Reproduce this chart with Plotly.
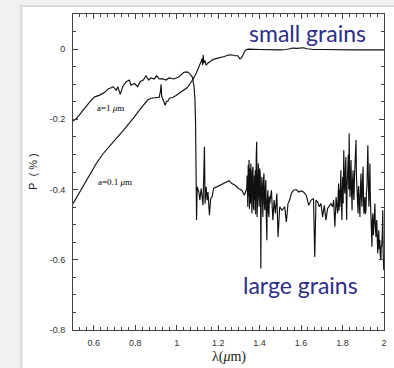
import plotly.graph_objects as go

# Polarisation spectra P(%) versus wavelength for two grain sizes.

# a = 1 micron grains: shortward rise, then collapse beyond ~1.09 um
lam_a1_short = [0.500, 0.518, 0.549, 0.581, 0.605, 0.629, 0.653, 0.673, 0.685, 0.693,
                0.709, 0.716, 0.728, 0.740, 0.757, 0.772, 0.780, 0.796, 0.812, 0.823,
                0.839, 0.852, 0.865, 0.876, 0.892, 0.903, 0.916, 0.931, 0.948, 0.963,
                0.987, 1.011, 1.035, 1.051, 1.062, 1.075, 1.083, 1.088, 1.091, 1.096]
pol_a1_short = [-0.205, -0.197, -0.174, -0.150, -0.136, -0.131, -0.123, -0.112, -0.110, -0.107,
                -0.117, -0.107, -0.129, -0.107, -0.093, -0.088, -0.103, -0.098, -0.107, -0.093,
                -0.088, -0.076, -0.088, -0.082, -0.085, -0.076, -0.085, -0.084, -0.088, -0.082,
                -0.085, -0.079, -0.066, -0.065, -0.069, -0.079, -0.103, -0.140, -0.207, -0.487]

lam_a1_hump = [1.099, 1.107, 1.112, 1.118, 1.123, 1.127, 1.134, 1.137, 1.142, 1.147,
               1.151, 1.158, 1.164, 1.171, 1.178, 1.194, 1.210, 1.226, 1.242, 1.253,
               1.266, 1.282, 1.298, 1.314, 1.327]
pol_a1_hump = [-0.392, -0.407, -0.430, -0.397, -0.421, -0.445, -0.278, -0.440, -0.392, -0.430,
               -0.407, -0.473, -0.426, -0.421, -0.397, -0.392, -0.388, -0.383, -0.378, -0.375,
               -0.383, -0.388, -0.397, -0.402, -0.416]

lam_a1_band1 = [1.338, 1.340, 1.343, 1.345, 1.347, 1.349, 1.351, 1.354, 1.356, 1.358,
                1.360, 1.363, 1.365, 1.368, 1.370, 1.373, 1.375, 1.377, 1.379, 1.381,
                1.384, 1.386, 1.388, 1.390, 1.392, 1.394, 1.396, 1.398, 1.400, 1.403,
                1.405, 1.406, 1.408, 1.411, 1.413, 1.416, 1.418, 1.421, 1.423, 1.425,
                1.428, 1.430, 1.432, 1.435, 1.437, 1.440, 1.442, 1.445, 1.447, 1.449,
                1.457, 1.464, 1.470, 1.476, 1.483, 1.489, 1.497, 1.508]
pol_a1_band1 = [-0.397, -0.360, -0.449, -0.330, -0.420, -0.316, -0.455, -0.340, -0.440, -0.326,
                -0.410, -0.468, -0.350, -0.335, -0.450, -0.459, -0.360, -0.430, -0.345, -0.470,
                -0.300, -0.264, -0.478, -0.380, -0.440, -0.326, -0.420, -0.449, -0.340, -0.354,
                -0.470, -0.625, -0.420, -0.364, -0.450, -0.478, -0.380, -0.354, -0.440, -0.459,
                -0.390, -0.373, -0.470, -0.544, -0.430, -0.402, -0.460, -0.478, -0.420, -0.440,
                -0.402, -0.487, -0.430, -0.468, -0.411, -0.535, -0.449, -0.459]

lam_a1_hump2 = [1.521, 1.529, 1.537, 1.545, 1.553, 1.564, 1.577, 1.589, 1.601, 1.612,
                1.625, 1.637, 1.648, 1.660, 1.666, 1.672, 1.680, 1.688, 1.696, 1.704,
                1.712, 1.720, 1.728, 1.736, 1.744, 1.752, 1.757, 1.763, 1.769]
pol_a1_hump2 = [-0.449, -0.492, -0.440, -0.430, -0.411, -0.402, -0.400, -0.407, -0.404, -0.407,
                -0.416, -0.445, -0.430, -0.426, -0.592, -0.430, -0.435, -0.449, -0.440, -0.478,
                -0.445, -0.487, -0.454, -0.445, -0.440, -0.449, -0.430, -0.506, -0.421]

lam_a1_band2 = [1.776, 1.778, 1.781, 1.783, 1.785, 1.787, 1.789, 1.792, 1.794, 1.797,
                1.799, 1.801, 1.803, 1.806, 1.808, 1.811, 1.813, 1.816, 1.818, 1.820,
                1.822, 1.825, 1.828, 1.830, 1.832, 1.834, 1.836, 1.838, 1.841, 1.843,
                1.846, 1.848, 1.851, 1.853, 1.855, 1.858, 1.860, 1.862, 1.865, 1.867,
                1.870, 1.872, 1.875, 1.877, 1.879, 1.881, 1.884, 1.886, 1.889, 1.891,
                1.894, 1.896, 1.899, 1.901, 1.903, 1.906, 1.908, 1.910, 1.913, 1.915,
                1.918, 1.920, 1.922, 1.925, 1.927, 1.930, 1.932, 1.934, 1.937, 1.939,
                1.942, 1.944, 1.946, 1.949, 1.951, 1.953, 1.956, 1.958, 1.961, 1.963,
                1.965, 1.968, 1.970, 1.972, 1.975, 1.977, 1.980, 1.982, 1.985, 1.987,
                1.989, 1.992, 1.994, 1.996, 1.999]
pol_a1_band2 = [-0.468, -0.410, -0.383, -0.460, -0.400, -0.449, -0.380, -0.345, -0.430, -0.487,
                -0.400, -0.364, -0.440, -0.288, -0.380, -0.411, -0.350, -0.307, -0.430, -0.487,
                -0.390, -0.345, -0.300, -0.400, -0.240, -0.350, -0.421, -0.370, -0.316, -0.400,
                -0.459, -0.380, -0.345, -0.410, -0.430, -0.360, -0.326, -0.300, -0.259, -0.360,
                -0.411, -0.440, -0.468, -0.390, -0.411, -0.450, -0.478, -0.400, -0.354, -0.420,
                -0.449, -0.380, -0.335, -0.420, -0.468, -0.440, -0.421, -0.470, -0.459, -0.410,
                -0.392, -0.330, -0.274, -0.380, -0.449, -0.400, -0.326, -0.420, -0.487, -0.520,
                -0.563, -0.490, -0.468, -0.530, -0.506, -0.470, -0.440, -0.500, -0.535, -0.500,
                -0.487, -0.550, -0.582, -0.540, -0.516, -0.570, -0.544, -0.590, -0.601, -0.560,
                -0.563, -0.520, -0.459, -0.580, -0.630]

# a = 0.1 micron grains: smooth rise to a flat plateau near zero
lam_a01 = [0.500, 0.525, 0.549, 0.581, 0.613, 0.645, 0.677, 0.709, 0.741, 0.772,
           0.796, 0.820, 0.844, 0.860, 0.876, 0.900, 0.916, 0.922, 0.925, 0.928,
           0.935, 0.940, 0.945, 0.950, 0.958, 0.965, 0.980, 0.995, 1.010, 1.030,
           1.050, 1.065, 1.080, 1.095, 1.105, 1.112, 1.118, 1.122, 1.125, 1.128,
           1.131, 1.136, 1.142, 1.150, 1.160, 1.175, 1.190, 1.210, 1.230, 1.250,
           1.265, 1.280, 1.295, 1.305, 1.312, 1.320, 1.328, 1.335, 1.346, 1.400,
           1.450, 1.500, 1.530, 1.560, 1.580, 1.610, 1.630, 1.660, 1.700, 1.750,
           1.800, 1.850, 1.900, 1.950, 2.000]
pol_a01 = [-0.440, -0.415, -0.390, -0.355, -0.325, -0.298, -0.275, -0.254, -0.233, -0.212,
           -0.193, -0.174, -0.155, -0.145, -0.140, -0.139, -0.137, -0.120, -0.100, -0.135,
           -0.145, -0.155, -0.160, -0.150, -0.148, -0.140, -0.138, -0.133, -0.127, -0.120,
           -0.110, -0.098, -0.085, -0.068, -0.055, -0.042, -0.035, -0.027, -0.045, -0.017,
           -0.040, -0.032, -0.046, -0.040, -0.036, -0.030, -0.027, -0.025, -0.021, -0.017,
           -0.016, -0.019, -0.019, -0.028, -0.025, -0.017, -0.006, -0.002, 0.000, -0.001,
           -0.002, -0.002, -0.001, 0.003, 0.002, 0.004, 0.001, -0.001, -0.001, -0.002,
           -0.002, -0.002, -0.002, -0.002, -0.002]

x_tick_vals = [0.6, 0.8, 1.0, 1.2, 1.4, 1.6, 1.8, 2.0]
x_tick_text = ["0.6", "0.8", "1", "1.2", "1.4", "1.6", "1.8", "2"]
y_tick_vals = [-0.8, -0.6, -0.4, -0.2, 0.0]
y_tick_text = ["-0.8", "-0.6", "-0.4", "-0.2", "0"]

lam_a1 = lam_a1_short + lam_a1_hump + lam_a1_band1 + lam_a1_hump2 + lam_a1_band2
pol_a1 = pol_a1_short + pol_a1_hump + pol_a1_band1 + pol_a1_hump2 + pol_a1_band2

W, H = 394, 368
ML, MR, MT, MB = 73, 7, 14, 38
PW, PH = W - ML - MR, H - MT - MB


def px_x(px):
    return (px - ML) / PW


def px_y(py):
    return 1 - (py - MT) / PH


fig = go.Figure()
line_style = dict(color="#111111", width=1.15)
fig.add_trace(go.Scatter(x=lam_a1, y=pol_a1, mode="lines", line=line_style,
                         hoverinfo="skip", showlegend=False))
fig.add_trace(go.Scatter(x=lam_a01, y=pol_a01, mode="lines", line=line_style,
                         hoverinfo="skip", showlegend=False))

# slide panel behind the chart
shapes = [
    dict(type="rect", xref="paper", yref="paper", layer="below",
         x0=px_x(19), x1=px_x(W + 5), y0=px_y(H + 5), y1=px_y(5),
         fillcolor="#e2e2e2", line=dict(width=0)),
    dict(type="rect", xref="paper", yref="paper", layer="below",
         x0=px_x(21), x1=px_x(W + 5), y0=px_y(H + 5), y1=px_y(6),
         fillcolor="#d6d6d6", line=dict(width=0)),
    dict(type="rect", xref="paper", yref="paper", layer="below",
         x0=px_x(22), x1=px_x(W + 5), y0=px_y(H + 5), y1=px_y(7),
         fillcolor="#ffffff", line=dict(width=0)),
]

serif = "Liberation Serif"
nb = "\u00a0"
annotations = [
    dict(x=0.679, y=-0.168, xref="x", yref="y", text="a=1 <i>μ</i>m", showarrow=False,
         font=dict(family=serif, size=9, color="black")),
    dict(x=0.703, y=-0.379, xref="x", yref="y", text="a=0.1 <i>μ</i>m", showarrow=False,
         font=dict(family=serif, size=9, color="black")),
    dict(x=1.632, y=0.045, xref="x", yref="y", text="small grains", showarrow=False,
         font=dict(family="Lato", size=23, color="#2b2d88")),
    dict(x=1.596, y=-0.672, xref="x", yref="y", text="large grains", showarrow=False,
         font=dict(family="Lato", size=23, color="#2b2d88")),
    dict(x=0, y=0.5, xref="paper", yref="paper", xshift=-40,
         text="P" + nb + nb + "(" + nb + "%" + nb + ")",
         textangle=-90, showarrow=False, xanchor="center", yanchor="middle",
         font=dict(family="Liberation Sans", size=11, color="#222")),
    dict(x=0.5, y=0, xref="paper", yref="paper", yshift=-27, text="λ(<i>μ</i>m)",
         showarrow=False, xanchor="center", yanchor="middle",
         font=dict(family=serif, size=14, color="#222")),
]

axis_common = dict(
    showline=True, linecolor="#444", linewidth=1, mirror="ticks",
    ticks="inside", ticklen=5, tickcolor="#444", tickwidth=1,
    showgrid=False, zeroline=False,
    tickfont=dict(family="Liberation Sans", size=9, color="#333"),
)

fig.update_layout(
    width=W, height=H,
    margin=dict(l=ML, r=MR, t=MT, b=MB, pad=0),
    paper_bgcolor="#f1f1f1", plot_bgcolor="#ffffff",
    shapes=shapes, annotations=annotations,
    xaxis=dict(range=[0.5, 2.0], tickmode="array", tickvals=x_tick_vals,
               ticktext=x_tick_text, ticklabelstandoff=4,
               minor=dict(ticks="inside", ticklen=3, dtick=0.2 / 6, tick0=0.6,
                          tickcolor="#444", showgrid=False),
               **axis_common),
    yaxis=dict(range=[-0.8, 0.1], tickmode="array", tickvals=y_tick_vals,
               ticktext=y_tick_text, ticklabelstandoff=5,
               minor=dict(ticks="inside", ticklen=3, dtick=0.05, tick0=0,
                          tickcolor="#444", showgrid=False),
               **axis_common),
)

fig.write_html("out.html")
